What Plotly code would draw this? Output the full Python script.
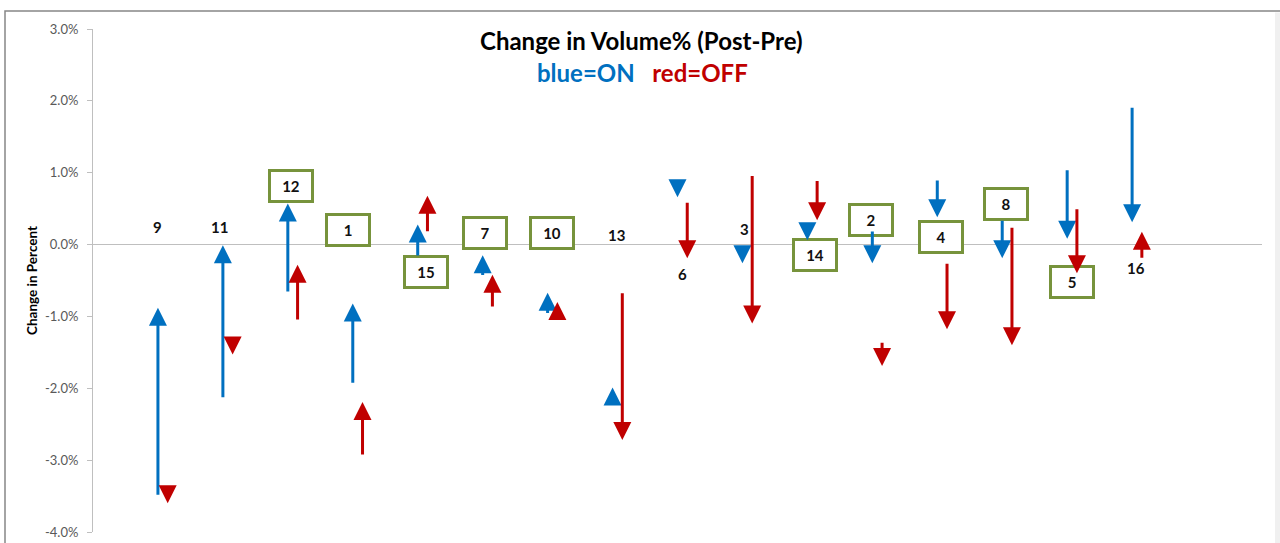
import plotly.graph_objects as go

# ---- data (values in percent) ----
labels = ["9", "11", "12", "1", "15", "7", "10", "13", "6", "3", "14", "2", "4", "8", "5", "16"]
on_start = [-3.49, -2.13, -0.66, -1.93, -0.16, -0.43, -0.96, -2.20, 0.86, -0.04, 0.24, 0.19, 0.90, 0.34, 1.04, 1.91]
on_end = [-0.88, -0.01, 0.57, -0.82, 0.28, -0.15, -0.67, -1.99, 0.66, -0.26, 0.06, -0.26, 0.38, -0.19, 0.08, 0.31]
off_start = [-3.40, -1.36, -1.05, -2.93, 0.18, -0.87, -1.00, -0.67, 0.59, 0.96, 0.89, -1.36, -0.26, 0.24, 0.50, -0.19]
off_end = [-3.60, -1.53, -0.28, -2.19, 0.68, -0.42, -0.80, -2.72, -0.19, -1.10, 0.34, -1.69, -1.18, -1.40, -0.40, 0.18]
label_x = [0.99, 1.95, 3.05, 3.93, 5.12, 6.04, 7.07, 8.06, 9.08, 10.03, 11.12, 11.98, 13.06, 14.06, 15.07, 16.06]
label_y = [0.24, 0.24, 0.81, 0.20, -0.38, 0.16, 0.16, 0.13, -0.41, 0.21, -0.15, 0.34, 0.10, 0.56, -0.52, -0.33]
boxed = [False, False, True, True, True, True, True, False, False, False, True, True, True, True, True, False]
y_ticks = [3, 2, 1, 0, -1, -2, -3, -4]
y_tick_text = ["3.0%", "2.0%", "1.0%", "0.0%", "-1.0%", "-2.0%", "-3.0%", "-4.0%"]

# ---- style ----
BLUE = "#0070C0"
RED = "#C00000"
GREEN = "#77933C"
FONT = "Lato"
OFF_DX = 0.15
W, H = 1280, 543
ML, MR, MT, MB = 93, 18, 29, 11


def px_x(px):
    return (px - ML) / (W - ML - MR)


def px_y(py):
    return (H - MB - py) / (H - MT - MB)


fig = go.Figure()
# invisible trace to establish axes
fig.add_trace(go.Scatter(x=[0, 18], y=[-4, 3], mode="markers",
                         marker=dict(opacity=0), hoverinfo="skip", showlegend=False))

annotations = []
# labels
for lab, lx, ly, bx in zip(labels, label_x, label_y, boxed):
    a = dict(x=lx, y=ly, xref="x", yref="y", text=f"<b>{lab}</b>", showarrow=False,
             font=dict(family=FONT, size=15, color="#111111"))
    if bx:
        a.update(bordercolor=GREEN, borderwidth=3, borderpad=2, bgcolor="white",
                 width=36, height=24)
    annotations.append(a)

# arrows
for i in range(len(labels)):
    k = i + 1
    annotations.append(dict(x=k, y=on_end[i], ax=k, ay=on_start[i],
                            xref="x", yref="y", axref="x", ayref="y",
                            text="", showarrow=True, arrowhead=2, arrowsize=1.2,
                            arrowwidth=3, arrowcolor=BLUE, standoff=0,
                            font=dict(size=1), borderpad=0))
    annotations.append(dict(x=k + OFF_DX, y=off_end[i], ax=k + OFF_DX, ay=off_start[i],
                            xref="x", yref="y", axref="x", ayref="y",
                            text="", showarrow=True, arrowhead=2, arrowsize=1.2,
                            arrowwidth=3, arrowcolor=RED, standoff=0,
                            font=dict(size=1), borderpad=0))

# titles (inside plot area so they never push margins)
annotations.append(dict(x=px_x(641), y=px_y(41), xref="paper", yref="paper",
                        text="<b>Change in Volume% (Post-Pre)</b>", showarrow=False,
                        xanchor="center", yanchor="middle",
                        font=dict(family=FONT, size=24, color="#000000")))
annotations.append(dict(x=px_x(642), y=px_y(72), xref="paper", yref="paper",
                        text=f"<b><span style='color:{BLUE}'>blue=ON</span>\u00a0\u00a0\u00a0<span style='color:{RED}'>red=OFF</span></b>",
                        showarrow=False, xanchor="center", yanchor="middle",
                        font=dict(family=FONT, size=24)))

shapes = [
    dict(type="rect", xref="paper", yref="paper", x0=px_x(5), x1=px_x(1295),
         y0=px_y(560), y1=px_y(11), line=dict(color="#868686", width=1.5),
         fillcolor="rgba(0,0,0,0)", layer="below"),
    dict(type="rect", xref="paper", yref="paper", x0=px_x(1275), x1=px_x(1281),
         y0=px_y(560), y1=px_y(12.5), line=dict(width=0), fillcolor="#f0f0f0",
         layer="below"),
]

fig.update_layout(
    width=W, height=H,
    margin=dict(l=ML, r=MR, t=MT, b=MB, pad=0, autoexpand=False),
    paper_bgcolor="white", plot_bgcolor="white",
    showlegend=False,
    annotations=annotations,
    shapes=shapes,
    xaxis=dict(range=[0, 18], visible=False, showgrid=False, zeroline=False,
               automargin=False),
    yaxis=dict(range=[-4, 3], tickvals=y_ticks, ticktext=y_tick_text, automargin=False,
               showgrid=False, zeroline=True, zerolinecolor="#bfbfbf", zerolinewidth=1,
               showline=True, linecolor="#bfbfbf", linewidth=1,
               ticks="outside", ticklen=5, tickcolor="#bfbfbf", ticklabelstandoff=6,
               tickfont=dict(family=FONT, size=13, color="#595959"),
               title=dict(text="<b>Change in Percent</b>", standoff=4,
                          font=dict(family=FONT, size=13.5, color="#000000"))),
)

fig.write_html("out.html", config={"displayModeBar": False},
               post_script="document.body.style.margin='0px';document.body.style.padding='0px';document.body.style.overflow='hidden';")
